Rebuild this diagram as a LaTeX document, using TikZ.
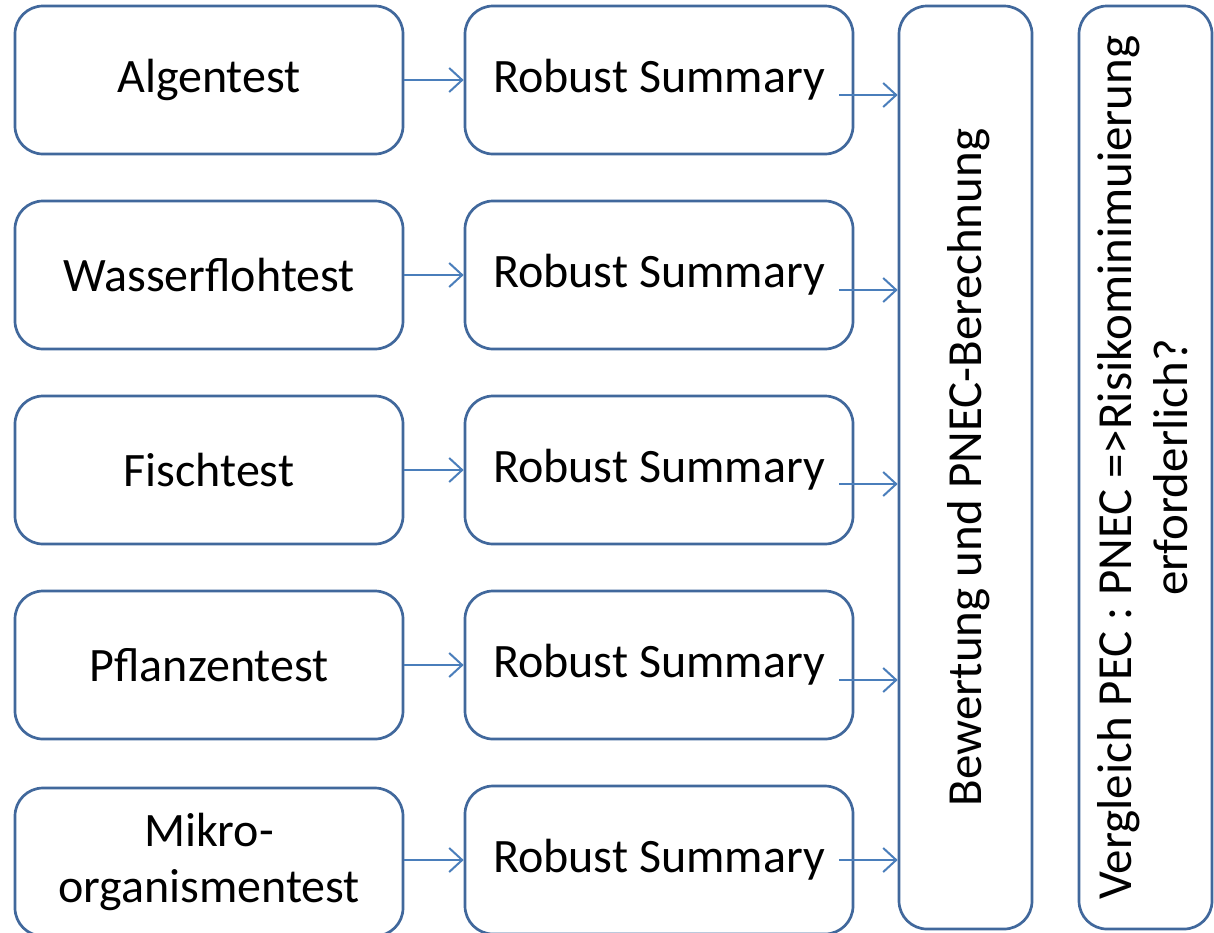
\documentclass[tikz,border=0pt]{standalone}
\usepackage{fontspec}
\setmainfont{Carlito}
\usetikzlibrary{arrows.meta}

\definecolor{rand}{HTML}{41689C}
\definecolor{pfeil}{HTML}{4A7EBB}

\tikzset{
    testbox/.style={draw=rand, line width=2.7pt, rounded corners=28pt, fill=white,
        minimum width=388pt, minimum height=148pt, align=center, font=\fontsize{48}{56}\selectfont},
    hochbox/.style={draw=rand, line width=2.7pt, rounded corners=28pt, fill=white,
        minimum width=133pt, minimum height=923pt},
    drehtext/.style={rotate=90, align=center, font=\fontsize{49}{56}\selectfont},
    arr/.style={draw=pfeil, line width=2pt, -{Straight Barb[length=13pt,width=24pt,line width=2pt]}}
}

\begin{document}
\begin{tikzpicture}[x=1pt, y=-1pt]
        \clip (0, 0) rectangle (1214, 932);
        \fill[white] (0, 0) rectangle (1214, 932);

        % linke Spalte: Tests
        \node[testbox] (t1) at (209, 80) {Algentest};
        \node[testbox] (t2) at (209, 275) {Wasserflohtest};
        \node[testbox] (t3) at (209, 470) {Fischtest};
        \node[testbox] (t4) at (209, 665) {Pflanzentest};
        \node[testbox] (t5) at (209, 862) {Mikro-\\organismentest};

        % mittlere Spalte
        \foreach \i/\y in {1/80, 2/275, 3/470, 4/665, 5/860} {
            \node[testbox] (rs\i) at (659, \y) {Robust Summary};
            \draw[arr] (t\i.east |- rs\i) -- (rs\i.west);
        }

        % rechte Spalte
        \node[hochbox] (bew) at (965.5, 467.5) {};
        \node[drehtext] at ([xshift=3pt]bew.center) {Bewertung und PNEC-Berechnung};
        \node[hochbox] (verg) at (1145.5, 467.5) {};
        \node[drehtext] at ([xshift=-3pt]verg.center) {Vergleich PEC : PNEC =>Risikominimuierung\\erforderlich?};

        \foreach \i/\d in {1/15, 2/15, 3/14, 4/15, 5/0} {
            \draw[arr] ([xshift=-15pt, yshift=-\d pt]rs\i.east) coordinate (s\i) -- (s\i -| bew.west);
        }
    \end{tikzpicture}
\end{document}
